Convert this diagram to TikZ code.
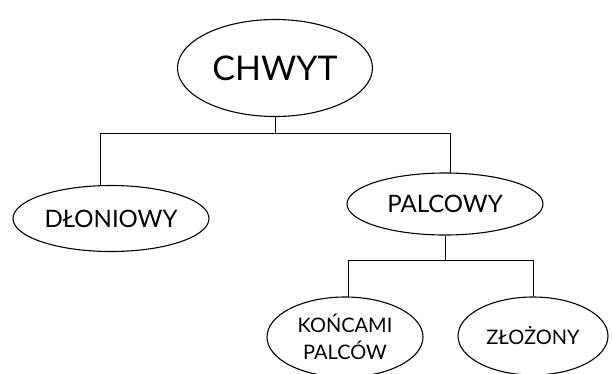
\documentclass[tikz,border=0pt]{standalone}
\usepackage{fontspec}
\setmainfont{Lato}
\usetikzlibrary{shapes.geometric}
\begin{document}
\begin{tikzpicture}[x=1pt,y=-1pt,
  oval/.style={draw, ellipse, line width=1.1pt, inner sep=0pt, align=center},
  conn/.style={line width=0.8pt}]
\useasboundingbox (0,0) rectangle (612,373);
\node[oval, minimum width=195pt, minimum height=97pt, font=\fontsize{34}{36}\selectfont] (chwyt) at (275,68) {CHWYT};
\node[oval, minimum width=196pt, minimum height=66pt, font=\fontsize{24}{26}\selectfont] (dlon) at (111,218.5) {DŁONIOWY};
\node[oval, minimum width=196pt, minimum height=62pt, font=\fontsize{24}{26}\selectfont] (palc) at (445,204) {PALCOWY};
\node[oval, minimum width=156pt, minimum height=80pt, font=\fontsize{20}{27}\selectfont] (konc) at (345,337) {KOŃCAMI\\PALCÓW};
\node[oval, minimum width=150pt, minimum height=78pt, font=\fontsize{20}{22}\selectfont] (zloz) at (533,336) {ZŁOŻONY};
\coordinate (b1) at (275,133);
\coordinate (b2) at (445,260);
\draw[conn] (chwyt.south) -- (b1);
\draw[conn] (b1) -| (dlon.108);
\draw[conn] (b1) -| (palc.80);
\draw[conn] (palc.south) -- (b2);
\draw[conn] (b2) -| (konc.85);
\draw[conn] (b2) -| (zloz.north);
\end{tikzpicture}
\end{document}
